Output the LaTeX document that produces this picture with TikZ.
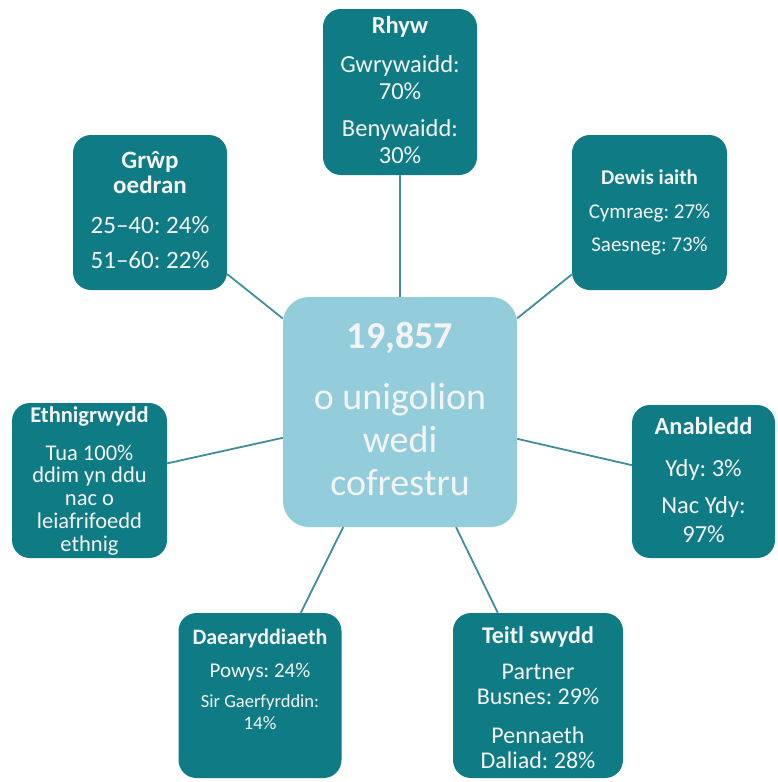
\documentclass[tikz,border=0pt]{standalone}
\usepackage{fontspec}
\setmainfont{Carlito}
\frenchspacing
\definecolor{tealbox}{HTML}{0F7C85}
\definecolor{centrebox}{HTML}{93CDDC}
\definecolor{linkcol}{HTML}{3E8E9E}
\definecolor{txtcol}{HTML}{F4F4F4}
\begin{document}
\begin{tikzpicture}[x=1pt,y=-1pt,
  tbox/.style={draw=none,fill=tealbox,rounded corners=18pt,inner sep=0pt},
  cbox/.style={draw=none,fill=centrebox,rounded corners=26pt,inner sep=0pt},
  txt/.style={text=txtcol,align=center,inner sep=0pt,anchor=base},
  link/.style={draw=linkcol,line width=1.8pt}]
\useasboundingbox[fill=white] (0,0) rectangle (778,782);

% boxes
\node[cbox,minimum width=234pt,minimum height=230pt] (centre) at (400,412) {};
\node[tbox,minimum width=154pt,minimum height=166pt] (rhyw) at (400,92) {};
\node[tbox,minimum width=154pt,minimum height=155pt] (grwp) at (150,212.5) {};
\node[tbox,minimum width=155pt,minimum height=155pt] (dewis) at (649.5,212.5) {};
\node[tbox,minimum width=155pt,minimum height=155pt] (ethn) at (89.5,480.5) {};
\node[tbox,minimum width=143pt,minimum height=153pt] (anab) at (703.5,481.5) {};
\node[tbox,minimum width=163pt,minimum height=165pt] (daear) at (260,695.5) {};
\node[tbox,minimum width=170pt,minimum height=165pt] (teitl) at (538,695.5) {};

% connectors
\path[link] (centre) -- (rhyw);
\path[link] (centre) -- (grwp);
\path[link] (centre) -- (dewis);
\path[link] (centre) -- (ethn);
\path[link] (centre) -- (anab);
\path[link] (centre) -- (daear);
\path[link] (centre) -- (teitl);

% texts (anchor base = baseline of the last line)
\node[txt,font=\fontsize{38}{43}\selectfont] (centret) at (400,495)
  {\textbf{19,857}\\[18pt]o unigolion\\wedi\\cofrestru};
\node[txt,font=\fontsize{24.5}{27}\selectfont] (rhywt) at (400,163)
  {\textbf{Rhyw}\\[12pt]Gwrywaidd:\\70\%\\[10pt]Benywaidd:\\30\%};
\node[txt,font=\fontsize{25}{25}\selectfont] (grwpt) at (150,268)
  {\textbf{Grŵp}\\\textbf{oedran}\\[15pt]25–40: 24\%\\[10pt]51–60: 22\%};
\node[txt,font=\fontsize{21}{26}\selectfont] (dewist) at (649.5,251)
  {\textbf{Dewis iaith}\\[8pt]Cymraeg: 27\%\\[7pt]Saesneg: 73\%};
\node[txt,font=\fontsize{22.5}{22.7}\selectfont] (ethnt) at (89.5,551)
  {\textbf{Ethnigrwydd}\\[15.3pt]Tua 100\%\\ddim yn ddu\\nac o\\leiafrifoedd\\ethnig};
\node[txt,font=\fontsize{24.5}{29}\selectfont] (anabt) at (703.5,542)
  {\textbf{Anabledd}\\[13pt]Ydy: 3\%\\[8pt]Nac Ydy:\\97\%};
\node[txt,font=\fontsize{21}{22}\selectfont] (daeart) at (260,729)
  {{\fontsize{22}{22}\selectfont\textbf{Daearyddiaeth}}\\[11pt]Powys: 24\%\\[8pt]{\fontsize{18.5}{22}\selectfont Sir Gaerfyrddin:}\\{\fontsize{19}{22}\selectfont 14\%}};
\node[txt,font=\fontsize{24}{25}\selectfont] (teitlt) at (538,768)
  {\textbf{Teitl swydd}\\[11pt]Partner\\Busnes: 29\%\\[14pt]Pennaeth\\Daliad: 28\%};
\end{tikzpicture}
\end{document}
